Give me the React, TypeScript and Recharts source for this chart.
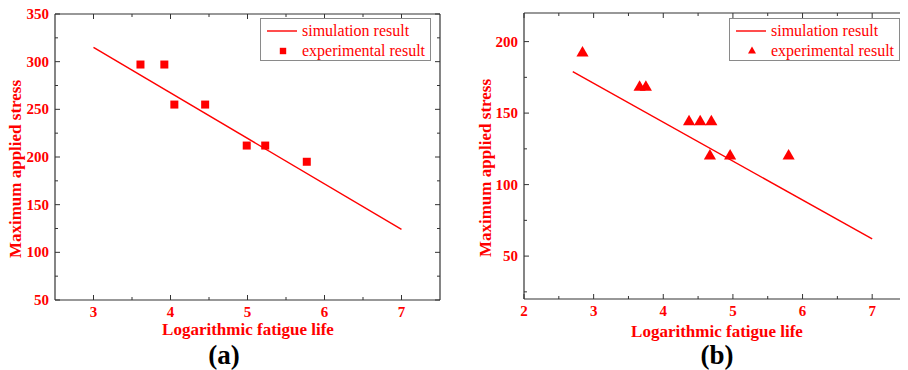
import React from "react";
import { ScatterChart, Scatter, XAxis, YAxis, ZAxis } from "recharts";

const RED = "#ff0000";
const FRAME = "#333333";
const SERIF = "'Liberation Serif', 'Times New Roman', serif";

// panel (a)
const simA = [
  { x: 3, y: 315 },
  { x: 7, y: 124 },
];
const expA = [
  { x: 3.61, y: 297 },
  { x: 3.92, y: 297 },
  { x: 4.05, y: 255 },
  { x: 4.45, y: 255 },
  { x: 4.99, y: 212 },
  { x: 5.23, y: 212 },
  { x: 5.77, y: 195 },
];
const xTicksA = [3, 3.5, 4, 4.5, 5, 5.5, 6, 6.5, 7];
const yTicksA = [50, 75, 100, 125, 150, 175, 200, 225, 250, 275, 300, 325, 350];

// panel (b)
const simB = [
  { x: 2.7, y: 179 },
  { x: 7, y: 62 },
];
const expB = [
  { x: 2.84, y: 192 },
  { x: 3.66, y: 168 },
  { x: 3.75, y: 168 },
  { x: 4.37, y: 144 },
  { x: 4.53, y: 144 },
  { x: 4.69, y: 144 },
  { x: 4.67, y: 120 },
  { x: 4.96, y: 120 },
  { x: 5.8, y: 120 },
];
const xTicksB = [2, 2.5, 3, 3.5, 4, 4.5, 5, 5.5, 6, 6.5, 7];
const yTicksB = [25, 50, 75, 100, 125, 150, 175, 200];

type Side = "bottom" | "top" | "left" | "right";

interface FrameTickProps {
  x?: number;
  y?: number;
  payload?: { value: number };
  side: Side;
  step: number;
}

// Origin-style inward ticks, labels only on the major ones
const FrameTick = ({ x = 0, y = 0, payload, side, step }: FrameTickProps) => {
  const v = payload?.value ?? 0;
  const major = Math.abs(v / step - Math.round(v / step)) < 1e-6;
  const len = major ? 5 : 3;
  const textStyle = { fontFamily: SERIF, fontSize: 15, fontWeight: 700, fill: RED };
  if (side === "bottom") {
    return (
      <g>
        <line x1={x} x2={x} y1={y} y2={y - len} stroke={FRAME} strokeWidth={1} />
        {major && (
          <text x={x} y={y + 17} textAnchor="middle" style={textStyle}>
            {v}
          </text>
        )}
      </g>
    );
  }
  if (side === "top") {
    return <line x1={x} x2={x} y1={y} y2={y + len} stroke={FRAME} strokeWidth={1} />;
  }
  if (side === "left") {
    return (
      <g>
        <line x1={x} x2={x + len} y1={y} y2={y} stroke={FRAME} strokeWidth={1} />
        {major && (
          <text x={x - 6} y={y + 5} textAnchor="end" style={textStyle}>
            {v}
          </text>
        )}
      </g>
    );
  }
  return <line x1={x} x2={x - len} y1={y} y2={y} stroke={FRAME} strokeWidth={1} />;
};

interface PanelProps {
  width: number;
  margin: { top: number; right: number; bottom: number; left: number };
  xDomain: [number, number];
  yDomain: [number, number];
  xTicks: number[];
  yTicks: number[];
  sim: { x: number; y: number }[];
  exp: { x: number; y: number }[];
  shape: "square" | "triangle";
  markerSize: number;
}

const Panel = ({ width, margin, xDomain, yDomain, xTicks, yTicks, sim, exp, shape, markerSize }: PanelProps) => (
  <ScatterChart width={width} height={370} margin={margin}>
    <XAxis
      xAxisId="b"
      type="number"
      dataKey="x"
      domain={xDomain}
      allowDataOverflow
      ticks={xTicks}
      interval={0}
      height={30}
      tickSize={0}
      tickMargin={0}
      tickLine={false}
      axisLine={{ stroke: FRAME, strokeWidth: 1.2 }}
      tick={(p: any) => <FrameTick {...p} side="bottom" step={1} />}
    />
    <XAxis
      xAxisId="t"
      orientation="top"
      type="number"
      dataKey="x"
      domain={xDomain}
      allowDataOverflow
      ticks={xTicks}
      interval={0}
      height={1}
      tickSize={0}
      tickMargin={0}
      tickLine={false}
      axisLine={{ stroke: FRAME, strokeWidth: 1.2 }}
      tick={(p: any) => <FrameTick {...p} side="top" step={1} />}
    />
    <YAxis
      yAxisId="l"
      type="number"
      dataKey="y"
      domain={yDomain}
      allowDataOverflow
      ticks={yTicks}
      interval={0}
      width={50}
      tickSize={0}
      tickMargin={0}
      tickLine={false}
      axisLine={{ stroke: FRAME, strokeWidth: 1.2 }}
      tick={(p: any) => <FrameTick {...p} side="left" step={50} />}
    />
    <YAxis
      yAxisId="r"
      orientation="right"
      type="number"
      dataKey="y"
      domain={yDomain}
      allowDataOverflow
      ticks={yTicks}
      interval={0}
      width={1}
      tickSize={0}
      tickMargin={0}
      tickLine={false}
      axisLine={{ stroke: FRAME, strokeWidth: 1.2 }}
      tick={(p: any) => <FrameTick {...p} side="right" step={50} />}
    />
    <ZAxis range={[markerSize, markerSize]} />
    <Scatter
      xAxisId="b"
      yAxisId="l"
      data={sim}
      line={{ stroke: RED, strokeWidth: 1.4 }}
      lineType="joint"
      shape={() => <g />}
      isAnimationActive={false}
    />
    <Scatter
      xAxisId="b"
      yAxisId="l"
      data={exp}
      shape={shape}
      fill={RED}
      isAnimationActive={false}
    />
  </ScatterChart>
);

const Legend = ({ left, shape }: { left: number; shape: "square" | "triangle" }) => {
  const mx = left + 23;
  return (
    <g>
      <rect x={left + 0.5} y={18.5} width={170} height={42} fill="#ffffff" stroke="#8a8a8a" strokeWidth={1} />
      <line x1={left + 7} x2={left + 37} y1={31} y2={31} stroke={RED} strokeWidth={1.4} />
      {shape === "square" ? (
        <rect x={mx - 3.2} y={47.8} width={6.4} height={6.4} fill={RED} />
      ) : (
        <polygon points={`${mx},46.5 ${mx + 4},53.5 ${mx - 4},53.5`} fill={RED} />
      )}
      <text x={left + 42} y={36} style={{ fontFamily: SERIF, fontSize: 16, fill: RED }}>
        simulation result
      </text>
      <text x={left + 42} y={56} style={{ fontFamily: SERIF, fontSize: 16, fill: RED }}>
        experimental result
      </text>
    </g>
  );
};

const titleStyle = { fontFamily: SERIF, fontSize: 17, fontWeight: 700, fill: RED };
const capStyle = { fontFamily: SERIF, fontSize: 27, fontWeight: 700, fill: "#000000" };

export default function App() {
  return (
    <div style={{ position: "relative", width: 908, height: 370, margin: "-8px 0 0 -8px", background: "#fff" }}>
      <div style={{ position: "absolute", left: 0, top: 0 }}>
        <Panel
          width={450}
          margin={{ top: 13, right: 9, bottom: 40, left: 5 }}
          xDomain={[2.5, 7.5]}
          yDomain={[50, 350]}
          xTicks={xTicksA}
          yTicks={yTicksA}
          sim={simA}
          exp={expA}
          shape="square"
          markerSize={42}
        />
      </div>
      <div style={{ position: "absolute", left: 460, top: 0 }}>
        <Panel
          width={448}
          margin={{ top: 12, right: 0, bottom: 41, left: 14 }}
          xDomain={[2, 7.5]}
          yDomain={[20, 220]}
          xTicks={xTicksB}
          yTicks={yTicksB}
          sim={simB}
          exp={expB}
          shape="triangle"
          markerSize={32}
        />
      </div>
      <svg
        width={908}
        height={370}
        style={{ position: "absolute", left: 0, top: 0, pointerEvents: "none" }}
      >
        <Legend left={260} shape="square" />
        <Legend left={729} shape="triangle" />
        <text x={248} y={335} textAnchor="middle" style={titleStyle}>
          Logarithmic fatigue life
        </text>
        <text x={717} y={337} textAnchor="middle" style={titleStyle}>
          Logarithmic fatigue life
        </text>
        <text
          x={15}
          y={169}
          textAnchor="middle"
          dominantBaseline="central"
          transform="rotate(-90 15 169)"
          style={titleStyle}
        >
          Maximum applied stress
        </text>
        <text
          x={485}
          y={168}
          textAnchor="middle"
          dominantBaseline="central"
          transform="rotate(-90 485 168)"
          style={titleStyle}
        >
          Maximum applied stress
        </text>
        <text x={224} y={364} textAnchor="middle" style={capStyle}>
          (a)
        </text>
        <text x={717} y={364} textAnchor="middle" style={capStyle}>
          (b)
        </text>
      </svg>
    </div>
  );
}
